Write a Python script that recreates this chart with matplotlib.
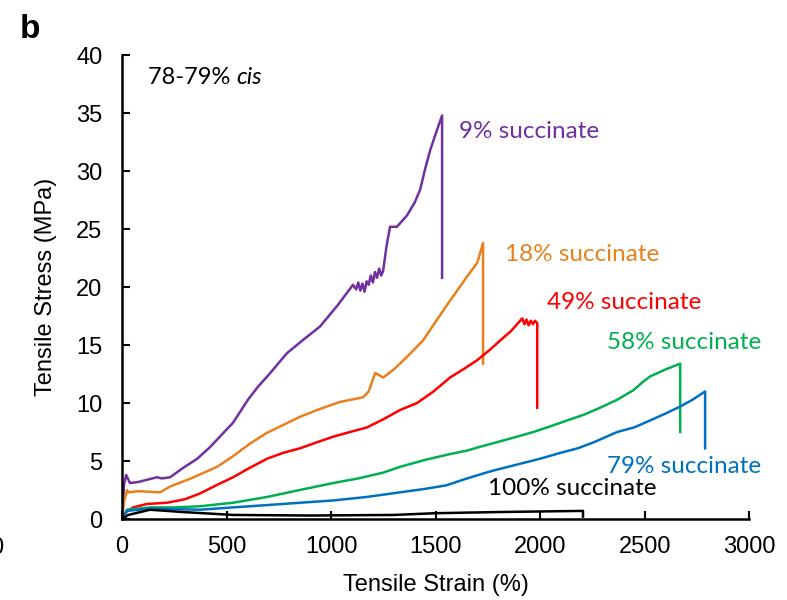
import matplotlib.pyplot as plt
import numpy as np

# strain (%) / stress (MPa)
x9 = [0, 10, 20, 38, 80, 167, 190, 230, 292, 360, 421, 531, 603, 650, 700, 789, 870, 947, 1030, 1105,
      1120, 1130, 1140, 1150, 1160, 1170, 1180, 1190, 1200, 1210, 1220, 1230, 1240, 1249,
      1265, 1282, 1315, 1364, 1400, 1426, 1450, 1474, 1500, 1531, 1531]
y9 = [0, 3.0, 3.8, 3.1, 3.2, 3.6, 3.5, 3.6, 4.4, 5.2, 6.2, 8.3, 10.3, 11.4, 12.4, 14.3, 15.5, 16.6, 18.4, 20.2,
      19.8, 20.4, 19.7, 20.3, 19.6, 20.5, 20.2, 21.0, 20.4, 21.3, 20.8, 21.6, 21.0, 21.4,
      23.5, 25.2, 25.2, 26.2, 27.3, 28.4, 30.2, 31.8, 33.2, 34.8, 20.8]

x18 = [0, 10, 24, 30, 80, 182, 230, 330, 455, 530, 612, 690, 770, 850, 933, 1043, 1100, 1153, 1180,
       1211, 1249, 1300, 1364, 1440, 1507, 1560, 1603, 1650, 1699, 1727, 1727]
y18 = [0, 1.5, 2.5, 2.3, 2.4, 2.3, 2.8, 3.5, 4.5, 5.4, 6.5, 7.4, 8.1, 8.8, 9.4, 10.1, 10.3, 10.5, 11.0,
       12.6, 12.2, 12.9, 14.0, 15.4, 17.2, 18.6, 19.7, 20.9, 22.1, 23.8, 13.4]

x49 = [0, 20, 53, 120, 215, 300, 373, 450, 531, 610, 694, 770, 852, 930, 1010, 1090, 1172, 1250,
       1330, 1411, 1490, 1569, 1640, 1699, 1760, 1809, 1860, 1880, 1914, 1925, 1935, 1945, 1955,
       1965, 1975, 1986, 1986]
y49 = [0, 0.6, 1.0, 1.3, 1.4, 1.7, 2.2, 2.9, 3.6, 4.4, 5.2, 5.7, 6.1, 6.6, 7.1, 7.5, 7.9, 8.6,
       9.4, 10.0, 11.0, 12.2, 13.0, 13.7, 14.6, 15.4, 16.2, 16.6, 17.3, 16.8, 17.2, 16.7, 17.1,
       16.8, 17.1, 16.9, 9.6]

x58 = [0, 24, 134, 250, 373, 530, 694, 850, 1010, 1130, 1249, 1330, 1450, 1569, 1650, 1727, 1850,
       1967, 2050, 2129, 2210, 2287, 2370, 2445, 2490, 2526, 2600, 2670, 2670]
y58 = [0, 0.8, 1.0, 1.0, 1.1, 1.4, 1.9, 2.5, 3.1, 3.5, 4.0, 4.5, 5.1, 5.6, 5.9, 6.3, 6.9,
       7.5, 8.0, 8.5, 9.0, 9.6, 10.3, 11.1, 11.8, 12.3, 12.9, 13.4, 7.5]

x79 = [0, 24, 134, 250, 373, 530, 694, 850, 1010, 1170, 1330, 1450, 1550, 1651, 1760, 1890, 2000,
       2096, 2180, 2254, 2368, 2450, 2526, 2600, 2670, 2730, 2789, 2789]
y79 = [0, 0.7, 0.9, 0.85, 0.8, 1.0, 1.2, 1.4, 1.6, 1.9, 2.3, 2.6, 2.9, 3.5, 4.1, 4.7, 5.2,
       5.7, 6.1, 6.6, 7.5, 7.9, 8.5, 9.1, 9.7, 10.3, 11.0, 6.1]

x100 = [0, 30, 134, 292, 531, 900, 1300, 1500, 1800, 2000, 2205, 2205]
y100 = [0, 0.35, 0.8, 0.6, 0.35, 0.3, 0.35, 0.5, 0.6, 0.65, 0.7, 0.2]

series = [
    (x9, y9, '#7030A0', '9% succinate', 1612, 33.4),
    (x18, y18, '#E8801E', '18% succinate', 1833, 22.8),
    (x49, y49, '#FF0000', '49% succinate', 2033, 18.7),
    (x58, y58, '#00B050', '58% succinate', 2321, 15.2),
    (x79, y79, '#0070C0', '79% succinate', 2321, 4.5),
    (x100, y100, '#000000', '100% succinate', 1751, 2.6),
]

fig = plt.figure(figsize=(7.87, 6), dpi=100)
ax = fig.add_axes([0.155, 0.135, 0.797, 0.773])

for xs, ys, c, lab, tx, ty in series:
    ax.plot(xs, ys, color=c, lw=1.8, solid_joinstyle='round')
    ax.text(tx, ty, lab, color=c, fontsize=17.5, family='Lato', va='center', ha='left')

t = ax.text(124, 38.1, '78-79% ', fontsize=17, family='Lato', va='center', ha='left')
ax.annotate('cis', xy=(1, 0.5), xycoords=t, fontsize=17, family='Lato', style='italic',
            va='center', ha='left')

ax.set_xlim(0, 3000)
ax.set_ylim(0, 40)
ax.set_xticks(np.arange(0, 3001, 500))
ax.set_yticks(np.arange(0, 41, 5))
for s in ['top', 'right']:
    ax.spines[s].set_visible(False)
for s in ['left', 'bottom']:
    ax.spines[s].set_linewidth(1.8)
ax.tick_params(direction='in', length=6, width=1.5, labelsize=17)
ax.tick_params(axis='y', pad=14)
ax.tick_params(axis='x', pad=12)
for lb in ax.get_xticklabels() + ax.get_yticklabels():
    lb.set_family('Liberation Sans')

ax.set_xlabel('Tensile Strain (%)', fontsize=17, family='Liberation Sans', labelpad=12)
ax.set_ylabel('Tensile Stress (MPa)', fontsize=17, family='Liberation Sans', labelpad=14)

fig.text(0.038, 0.95, 'b', fontsize=24, weight='bold', family='Liberation Sans', va='center', ha='center')
fig.text(-0.004, 0.087, '0', fontsize=17, family='Liberation Sans', va='center', ha='center')

fig.savefig('out.png', dpi=100)
